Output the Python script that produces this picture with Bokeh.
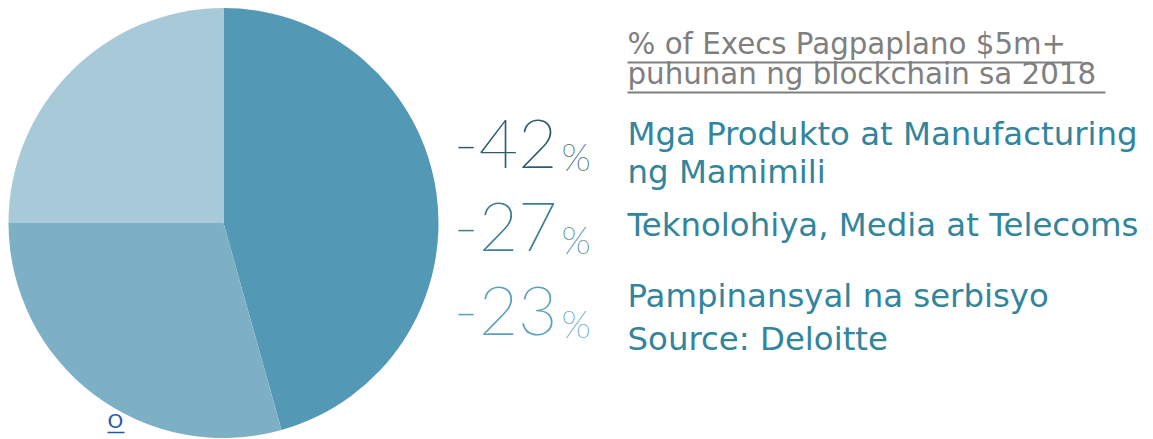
from bokeh.plotting import figure
from bokeh.models import Range1d
from bokeh.core.properties import value
from bokeh.embed import file_html
from bokeh.resources import INLINE
import math

# ---- data ----
values = [42, 27, 23]
pct_labels = ["-42", "-27", "-23"]
categories = ["Mga Produkto  at Manufacturing\nng Mamimili",
              "Teknolohiya, Media at Telecoms",
              "Pampinansyal na serbisyo"]
title_lines = ["% of Execs Pagpaplano $5m+ ", "puhunan ng blockchain  sa 2018"]
source_text = "Source: Deloitte"
slice_colors = ["#5398b5", "#7eb0c5", "#a8c9d8"]
pct_colors = ["#2f5d70", "#3e7d96", "#5aa1be"]

W, H = 1153, 439
p = figure(width=W, height=H, output_backend="svg", toolbar_location=None,
           x_range=Range1d(0, W), y_range=Range1d(0, H), min_border=0,
           background_fill_color="white", border_fill_color="white")
p.axis.visible = False
p.grid.visible = False
p.outline_line_color = None

def Y(py):
    return H - py

def off(size):
    # compensate renderer's alphabetic-baseline shift
    return -round(0.4 * size)

# ---- pie ----
total = sum(values)
cum = 0
starts, ends = [], []
for v in values:
    starts.append(math.pi / 2 - 2 * math.pi * cum / total)
    cum += v
    ends.append(math.pi / 2 - 2 * math.pi * cum / total)
p.wedge(x=[223] * 3, y=[Y(222.5)] * 3, radius=215, start_angle=starts, end_angle=ends,
        direction="clock", fill_color=slice_colors, line_color=None)

# ---- big percentages ----
num_font = value("'Lato Thin', 'Roboto Thin', 'Lato Light', Roboto, sans-serif")
num_base = [170, 253, 337]
p.text(x=[453] * 3, y=[Y(b) for b in num_base], text=pct_labels, text_color=pct_colors,
       text_font=num_font, text_font_size="68px", text_baseline="alphabetic", text_align="left",
       y_offset=off(68))
p.text(x=[561] * 3, y=[Y(b) for b in num_base], text=["%"] * 3, text_color=pct_colors,
       text_font=num_font, text_font_size="38px", text_baseline="alphabetic", text_align="left",
       y_offset=off(38))

# ---- title (underlined) ----
title_base = [55, 85]
p.text(x=[627] * 2, y=[Y(b) for b in title_base], text=title_lines, text_color="#7f7f7f",
       text_font=value("DejaVu Sans"), text_font_size="29.3px", text_baseline="alphabetic",
       y_offset=off(29.3))
ul_end = [1082, 1105]
p.segment(x0=[627] * 2, y0=[Y(b + 7) for b in title_base], x1=ul_end, y1=[Y(b + 7) for b in title_base],
          line_color="#7f7f7f", line_width=2)

# ---- category labels ----
teal = "#31859c"
cat_first_base = [146, 237, 308]
lx, ly, lt = [], [], []
for cat, b in zip(categories, cat_first_base):
    for i, line in enumerate(cat.split("\n")):
        lx.append(627); ly.append(Y(b + i * 38)); lt.append(line)
lx.append(627); ly.append(Y(351)); lt.append(source_text)
p.text(x=lx, y=ly, text=lt, text_color=teal, text_font=value("DejaVu Sans"),
       text_font_size="32.4px", text_baseline="alphabetic", y_offset=off(32.4))

# ---- small link "O" ----
p.text(x=[107], y=[Y(428)], text=["O"], text_color="#1f5aa6", text_font=value("DejaVu Sans"),
       text_font_size="20px", text_baseline="alphabetic", y_offset=off(20))
p.segment(x0=[107], y0=[Y(432)], x1=[124], y1=[Y(432)], line_color="#1f5aa6", line_width=1.5)

open("out.html", "w").write(file_html(p, INLINE))
